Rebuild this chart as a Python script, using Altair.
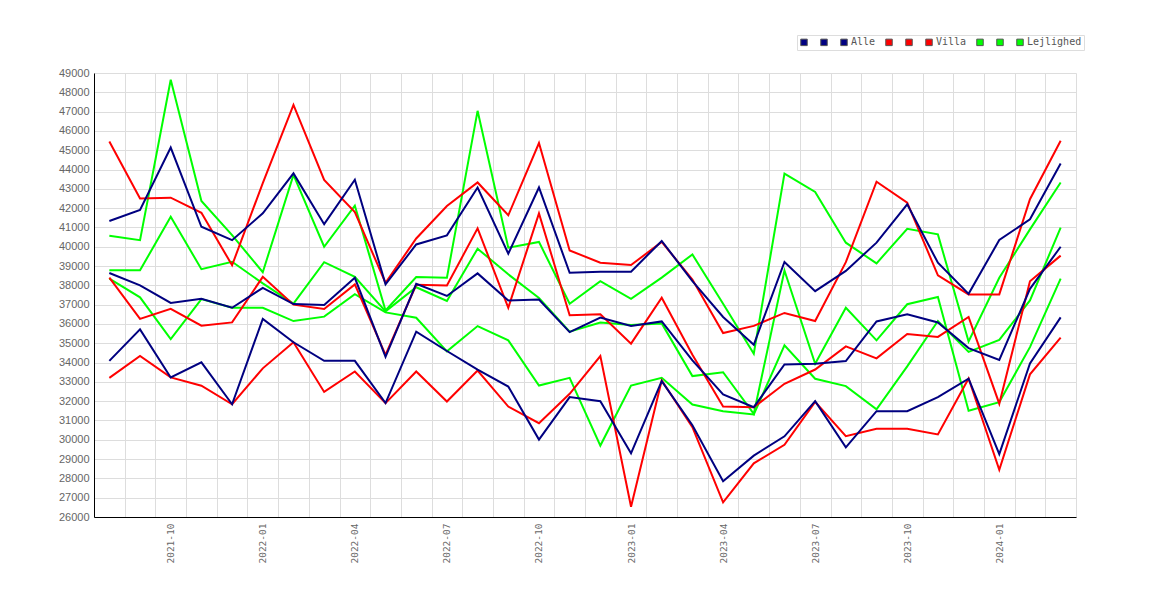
import altair as alt
import pandas as pd

months = [
    "2021-08", "2021-09", "2021-10", "2021-11", "2021-12",
    "2022-01", "2022-02", "2022-03", "2022-04", "2022-05", "2022-06",
    "2022-07", "2022-08", "2022-09", "2022-10", "2022-11", "2022-12",
    "2023-01", "2023-02", "2023-03", "2023-04", "2023-05", "2023-06",
    "2023-07", "2023-08", "2023-09", "2023-10", "2023-11", "2023-12",
    "2024-01", "2024-02", "2024-03",
]

alle_a = [41330, 41900, 45140, 41035, 40340, 41730, 43800, 41170, 43470, 38050, 40120,
          40590, 43070, 39640, 43070, 38650, 38710, 38710, 40300, 38220, 36360, 34920,
          39210, 37700, 38750, 40210, 42200, 39170, 37560, 40350, 41420, 44310]
alle_b = [38640, 38000, 37090, 37300, 36840, 37870, 37030, 36980, 38390, 34300, 38080,
          37450, 38620, 37220, 37270, 35580, 36330, 35890, 36130, 34110, 32350, 31690,
          33900, 33940, 34080, 36130, 36500, 36080, 34750, 34140, 37820, 40000]
alle_c = [34090, 35720, 33230, 34010, 31840, 36260, 35050, 34090, 34090, 31900, 35600,
          34600, 33630, 32760, 30010, 32210, 32000, 29300, 33040, 30750, 27850, 29180,
          30180, 32000, 29610, 31480, 31480, 32210, 33170, 29260, 33950, 36340]

villa_a = [45450, 42500, 42540, 41760, 39040, 43300, 47350, 43460, 41790, 38130, 40430,
           42110, 43330, 41630, 45370, 39810, 39170, 39050, 40250, 38300, 35530, 35900,
           36570, 36150, 39200, 43370, 42280, 38520, 37530, 37530, 42460, 45490]
villa_b = [38400, 36260, 36780, 35910, 36080, 38440, 37000, 36775, 38050, 34400, 38030,
           37990, 40950, 36840, 41730, 36450, 36500, 34980, 37360, 34400, 31720, 31690,
           32900, 33640, 34840, 34220, 35480, 35330, 36360, 31870, 38210, 39540]
villa_c = [33210, 34340, 33230, 32800, 31840, 33700, 35050, 32480, 33540, 31900, 33540,
           31980, 33590, 31720, 30860, 32380, 34340, 26530, 33070, 30650, 26760, 28780,
           29740, 31960, 30190, 30570, 30570, 30280, 33180, 28450, 33390, 35290]

lejl_a = [40570, 40340, 48650, 42370, 40600, 38680, 43720, 40000, 42130, 36700, 38430,
          38400, 47040, 39950, 40250, 37050, 38220, 37300, 38400, 39600, 37050, 34460,
          43790, 42840, 40210, 39140, 40930, 40640, 35090, 38390, 40900, 43330]
lejl_b = [38780, 38780, 41550, 38840, 39220, 38100, 37050, 39200, 38440, 36650, 37900,
          37190, 39900, 38570, 37350, 35600, 36070, 35940, 36030, 33300, 33500, 31340,
          38770, 33940, 36840, 35150, 37020, 37400, 31500, 31950, 34800, 38350]
lejl_c = [38350, 37380, 35220, 37290, 36840, 36840, 36150, 36380, 37540, 36600, 36320,
          34580, 35890, 35150, 32810, 33210, 29700, 32810, 33210, 31830, 31480, 31310,
          34890, 33160, 32780, 31580, 33800, 36150, 34550, 35170, 37220, 40990]

series_keys = ["Alle#1", "Alle#2", "Alle", "Villa#1", "Villa#2", "Villa",
               "Lejlighed#1", "Lejlighed#2", "Lejlighed"]
series_colors = ["#000080", "#000080", "#000080", "#ff0000", "#ff0000", "#ff0000",
                 "#00ff00", "#00ff00", "#00ff00"]
y_ticks = list(range(26000, 49001, 1000))

# drawing order: Lejlighed underneath, Alle on top
draw = [
    ("Lejlighed#1", lejl_a), ("Lejlighed#2", lejl_b), ("Lejlighed", lejl_c),
    ("Villa#1", villa_a), ("Villa#2", villa_b), ("Villa", villa_c),
    ("Alle#1", alle_a), ("Alle#2", alle_b), ("Alle", alle_c),
]
rows = []
for key, vals in draw:
    for m, v in zip(months, vals):
        rows.append({"month": m, "value": v, "series": key})
df = pd.DataFrame(rows)

color_scale = alt.Scale(domain=series_keys, range=series_colors)

x_enc = alt.X(
    "month:O", sort=months, bandPosition=0.5,
    scale=alt.Scale(type="band", paddingInner=0, paddingOuter=0),
    axis=alt.Axis(
        title=None, labelAngle=270, labelFont="DejaVu Sans Mono", labelFontSize=9.5,
        labelColor="#666666", labelPadding=6, ticks=False, tickBand="extent",
        grid=True, gridColor="#dddddd", gridWidth=1, domainColor="#000000",
        domainWidth=1, labelOverlap=False,
        labelExpr="test(/-(01|04|07|10)$/, datum.value) ? datum.value : ''",
    ),
)
y_enc = alt.Y(
    "value:Q",
    scale=alt.Scale(domain=[26000, 49000], nice=False, zero=False),
    axis=alt.Axis(
        title=None, values=y_ticks, format="d", labelFont="Liberation Sans",
        labelFontSize=11, labelColor="#666666", ticks=False, labelPadding=5,
        grid=True, gridColor="#dddddd", gridWidth=1, domainColor="#000000",
        domainWidth=1,
    ),
)

lines = alt.Chart(df).mark_line(strokeWidth=2).encode(
    x=x_enc, y=y_enc,
    color=alt.Color("series:N", scale=color_scale, legend=None),
)

legend_layer = alt.Chart(df).mark_point(
    shape="square", filled=True, stroke="#555555", strokeWidth=1, size=0
).encode(
    x=x_enc, y=y_enc,
    color=alt.Color(
        "series:N", scale=color_scale,
        legend=alt.Legend(
            title=None, orient="none", legendX=703, legendY=-38,
            direction="horizontal", columns=9, symbolType="square",
            symbolSize=42, symbolStrokeColor="#555555", symbolStrokeWidth=1,
            symbolOpacity=1, labelFont="DejaVu Sans Mono", labelFontSize=10,
            labelColor="#555555", labelOffset=2, columnPadding=7, rowPadding=0,
            padding=2, strokeColor="#dddddd",
            labelExpr="indexof(datum.label, '#') >= 0 ? '' : datum.label",
        ),
    ),
)

chart = alt.layer(lines, legend_layer).resolve_legend(color="independent").properties(
    width=982, height=444,
    autosize=alt.AutoSizeParams(type="none"),
    padding={"left": 86, "top": 65, "right": 70, "bottom": 70},
    background="#ffffff",
).configure_view(stroke=None)

chart.save("out.html", embed_options={"renderer": "svg", "actions": False})
